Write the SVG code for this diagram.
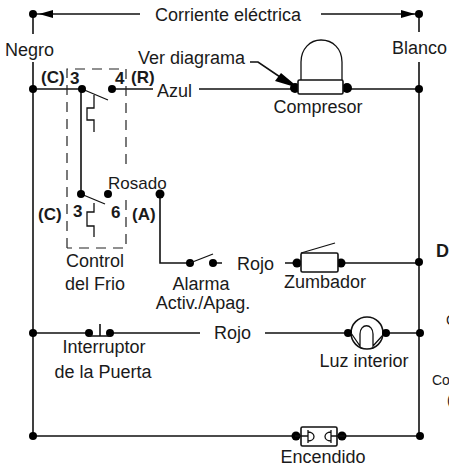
<svg xmlns="http://www.w3.org/2000/svg" width="449" height="468" viewBox="0 0 449 468">
<style>
text{font-family:"Liberation Sans",Arial,sans-serif;font-size:18px;fill:#1a1a1a}
.m{text-anchor:middle}
.b{font-weight:bold;font-size:17px}
.w{fill:none;stroke:#111;stroke-width:1.6}
.t{fill:none;stroke:#111;stroke-width:1.3}
.d{fill:none;stroke:#222;stroke-width:1.2;stroke-dasharray:10 7}
.k{fill:#000}
.o{fill:#fff;stroke:#111;stroke-width:1.6}
.e{font-size:14px}
</style>
<rect width="449" height="468" fill="#fff"/>
<g id="connectors">
<path class="w" d="M140 14H33V34M33 62V436M33 89H82M112 89H153M199 89H295M347 89H419M321 14H419V32M419 62V436M81 89V194M33 333H89M110 333H200M265 333H348M386 333H420M341 263H419M33 436H296M342 436H420M160 194V263H190M213 263H222M285 263H297"/>
<path class="w" d="M250 62H258L283 79"/>
<path class="k" d="M53 10V18L39 14ZM401 10L415 14L401 18ZM281 73L293 83L295 87L275 81Z"/>
<g class="k">
<circle cx="33" cy="14" r="4"/><circle cx="419" cy="14" r="4"/><circle cx="33" cy="89" r="4"/><circle cx="419" cy="89" r="4"/><circle cx="419" cy="262" r="4"/><circle cx="33" cy="333" r="4"/><circle cx="420" cy="333" r="4"/><circle cx="33" cy="436" r="4"/><circle cx="420" cy="436" r="4"/>
</g>
</g>
<g id="control-frio">
<path class="d" d="M67 248V69H126V170M126 200V248H67"/>
<path class="t" d="M82 89L108 100M94 95V108H87V120H94V132M81 194L105 204M94 203V212H87V226H94V237"/>
<g class="k"><circle cx="82" cy="89" r="4"/><circle cx="112" cy="89" r="4"/><circle cx="81" cy="194" r="4"/><circle cx="108" cy="194" r="4"/></g>
<text class="b" x="41" y="83">(C)</text><text class="b" x="70" y="84">3</text><text class="b" x="115" y="84">4</text><text class="b" x="131" y="83">(R)</text>
<text class="b" x="38" y="220">(C)</text><text class="b" x="73" y="217">3</text><text class="b" x="111" y="218">6</text><text class="b" x="132" y="220">(A)</text>
<text class="m" x="95" y="267">Control</text><text class="m" x="95" y="290">del Frio</text>
</g>
<g id="compresor">
<path class="t" d="M301 80V62C301 49 310 40 321 40C333 40 342 49 342 62V80"/>
<circle class="k" cx="295" cy="88" r="5"/><circle class="k" cx="347" cy="88" r="5"/>
<rect class="o" x="298" y="80" width="45" height="14" rx="1.5"/>
<text class="m" x="318" y="113">Compresor</text>
</g>
<g id="alarma">
<circle class="k" cx="160" cy="194" r="4.5"/><circle class="k" cx="190" cy="263" r="4"/><circle class="k" cx="213" cy="263" r="4"/>
<path class="t" d="M190 263L213 254"/>
<text class="m" x="201" y="290">Alarma</text><text class="m" x="203" y="309">Activ./Apag.</text>
</g>
<g id="zumbador">
<circle class="k" cx="297" cy="263" r="4.5"/><circle class="k" cx="341" cy="263" r="4.5"/>
<rect class="o" x="301" y="253" width="37" height="19" rx="1.5"/>
<path class="t" d="M301 253L335 243"/>
<text class="m" x="325" y="288">Zumbador</text>
</g>
<g id="interruptor">
<circle class="k" cx="89" cy="333" r="4"/><circle class="k" cx="110" cy="333" r="4"/>
<path class="w" d="M89 336H110M100 324V336"/>
<text class="m" x="104" y="353">Interruptor</text><text class="m" x="103" y="378">de la Puerta</text>
</g>
<g id="luz">
<circle class="o" cx="367" cy="333" r="16"/>
<circle class="k" cx="348" cy="333" r="4"/><circle class="k" cx="386" cy="333" r="4"/>
<path class="t" d="M351 333L360 346V334C360 323 373 323 373 334V346L383 335"/>
<text class="m" x="364" y="367">Luz interior</text>
</g>
<g id="encendido">
<circle class="k" cx="296" cy="436" r="4.5"/><circle class="k" cx="342" cy="436" r="4.5"/>
<rect class="o" x="301" y="427" width="36" height="19" rx="1.5"/>
<path class="t" d="M295 436H308M308 430V443M308 432C316 432 316 441 308 441M331 436H345M331 430V443M331 432C323 432 323 441 331 441"/>
<text class="m" x="323" y="463">Encendido</text>
</g>
<g id="labels">
<text x="155" y="21">Corriente eléctrica</text>
<text x="5" y="56">Negro</text>
<text x="392" y="54">Blanco</text>
<text x="138" y="64">Ver diagrama</text>
<text x="157" y="97">Azul</text>
<text x="108" y="189" style="font-size:17px">Rosado</text>
<text x="237" y="270">Rojo</text>
<text x="214" y="339">Rojo</text>
<text x="436" y="257" style="font-size:18px;font-weight:bold">D</text>
<text class="e" x="446" y="325">C</text>
<text class="e" x="432" y="385">Co</text>
<text class="e" x="447" y="405">(</text>
</g>
</svg>
